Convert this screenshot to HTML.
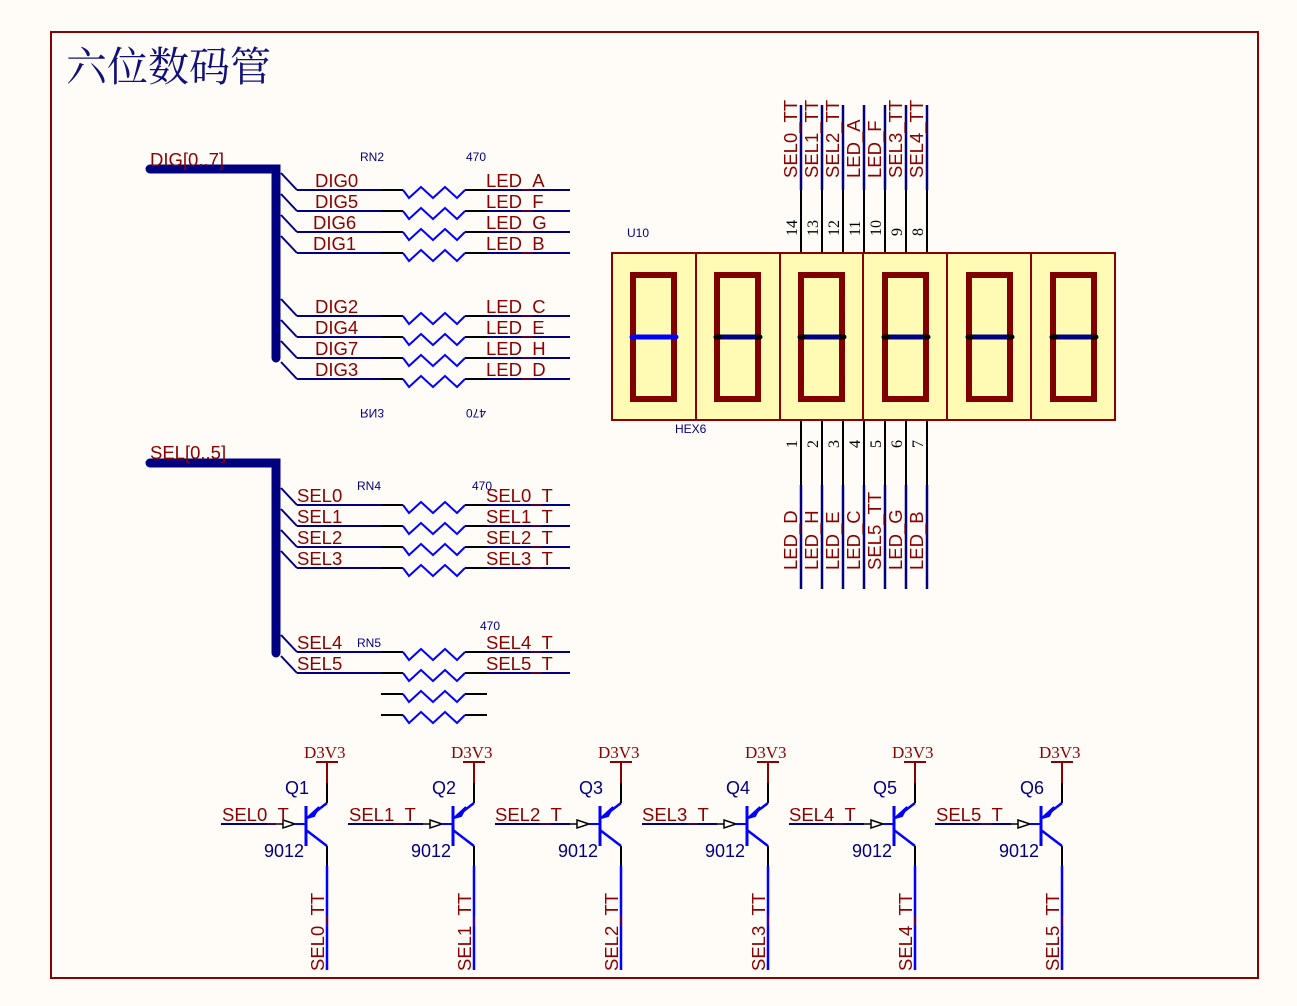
<!DOCTYPE html>
<html><head><meta charset="utf-8"><style>
html,body{margin:0;padding:0;background:#fffcf7;}
svg{display:block;}
.r{fill:#8b0000;font-family:"Liberation Sans",sans-serif;font-size:18.5px;}
.b{fill:#000080;font-family:"Liberation Sans",sans-serif;font-size:12px;}
.q{fill:#000080;font-family:"Liberation Sans",sans-serif;font-size:18px;}
.s{fill:#8b0000;font-family:"Liberation Serif",serif;font-size:17px;}
.n{fill:#000;font-family:"Liberation Serif",serif;font-size:16px;}
</style></head><body>
<svg width="1297" height="1006" viewBox="0 0 1297 1006" xmlns="http://www.w3.org/2000/svg">
<defs>
<g id="res"><path d="M297 0H381" stroke="#000080" stroke-width="2" fill="none"/><path d="M381 0H403M465 0H487" stroke="#000" stroke-width="2"/><path d="M403 0L409 8L421 -3L433 8L445 -3L457 8L465 0" stroke="#0000ff" stroke-width="2" fill="none"/><path d="M487 0H570" stroke="#000080" stroke-width="2"/><path d="M281 -17L297 0" stroke="#000080" stroke-width="2"/></g>
<g id="cell"><rect x="21" y="22" width="41" height="124" fill="none" stroke="#800000" stroke-width="6"/></g>
<g id="qb">
<path d="M-30 0H-23" stroke="#000" stroke-width="1.5"/>
<polygon points="-23,-4 -11,0 -23,4" fill="#fff" stroke="#000" stroke-width="1.5"/>
<path d="M-11 0H0" stroke="#0000ff" stroke-width="2"/>
<path d="M0 -18V22" stroke="#0000ff" stroke-width="3"/>
<path d="M0 6L21 22" stroke="#0000ff" stroke-width="2.5"/>
<path d="M21 -21L8 -11" stroke="#0000ff" stroke-width="2.5"/>
<polygon points="1,-6 13,-17 8,-8" fill="#0000ff" stroke="#0000ff" stroke-width="2"/>
<path d="M21 -21V-41" stroke="#000" stroke-width="2"/>
<path d="M21 -41V-62M10 -62H32" stroke="#8b0000" stroke-width="2"/>
<path d="M21 22V42" stroke="#000" stroke-width="2"/>
<path d="M21 42V146" stroke="#0000ff" stroke-width="2.5"/>
</g>
</defs>
<rect x="51" y="32" width="1207" height="946" fill="none" stroke="#8b0000" stroke-width="2"/>
<text x="66" y="81" style="font-family:'Liberation Serif','Noto Serif CJK SC',serif;font-size:41px;fill:#10107a">六位数码管</text>

<path d="M150 169H276V358" stroke="#000080" stroke-width="9" fill="none" stroke-linecap="round"/>
<text class="r" x="150" y="166">DIG[0..7]</text>
<text class="b" x="360" y="161">RN2</text><text class="b" x="466" y="161">470</text>
<use href="#res" y="190"/><use href="#res" y="211"/><use href="#res" y="232"/><use href="#res" y="253"/>
<use href="#res" y="316"/><use href="#res" y="337"/><use href="#res" y="358"/><use href="#res" y="379"/>
<text class="r" x="315" y="187">DIG0</text><text class="r" x="315" y="208">DIG5</text><text class="r" x="313" y="229">DIG6</text><text class="r" x="313" y="250">DIG1</text>
<text class="r" x="315" y="313">DIG2</text><text class="r" x="315" y="334">DIG4</text><text class="r" x="315" y="355">DIG7</text><text class="r" x="315" y="376">DIG3</text>
<text class="r" x="486" y="187">LED_A</text><text class="r" x="486" y="208">LED_F</text><text class="r" x="486" y="229">LED_G</text><text class="r" x="486" y="250">LED_B</text>
<text class="r" x="486" y="313">LED_C</text><text class="r" x="486" y="334">LED_E</text><text class="r" x="486" y="355">LED_H</text><text class="r" x="486" y="376">LED_D</text>
<text class="b" transform="translate(360,409) scale(1,-1)">RN3</text>
<text class="b" transform="translate(486,409) scale(-1,-1)">470</text>

<path d="M150 463H276V653" stroke="#000080" stroke-width="9" fill="none" stroke-linecap="round"/>
<text class="r" x="150" y="459">SEL[0..5]</text>
<use href="#res" y="505"/><use href="#res" y="526"/><use href="#res" y="547"/><use href="#res" y="568"/>
<use href="#res" y="652"/><use href="#res" y="673"/>
<path d="M381 694H403M465 694H487M381 715H403M465 715H487" stroke="#000" stroke-width="2"/>
<path d="M403 694L409 702L421 691L433 702L445 691L457 702L465 694M403 715L409 723L421 712L433 723L445 712L457 723L465 715" stroke="#0000ff" stroke-width="2" fill="none"/>
<text class="b" x="357" y="490">RN4</text><text class="b" x="472" y="490">470</text>
<text class="b" x="357" y="647">RN5</text><text class="b" x="480" y="630">470</text>
<text class="r" x="297" y="502">SEL0</text><text class="r" x="297" y="523">SEL1</text><text class="r" x="297" y="544">SEL2</text><text class="r" x="297" y="565">SEL3</text>
<text class="r" x="297" y="649">SEL4</text><text class="r" x="297" y="670">SEL5</text>
<text class="r" x="486" y="502">SEL0_T</text><text class="r" x="486" y="523">SEL1_T</text><text class="r" x="486" y="544">SEL2_T</text><text class="r" x="486" y="565">SEL3_T</text>
<text class="r" x="486" y="649">SEL4_T</text><text class="r" x="486" y="670">SEL5_T</text>

<g stroke-width="2" stroke="#000">
<path d="M801 190V253M822 190V253M843 190V253M864 190V253M885 190V253M906 190V253M927 190V253"/>
<path d="M801 420V485M822 420V485M843 420V485M864 420V485M885 420V485M906 420V485M927 420V485"/>
</g>
<g stroke-width="2.5" stroke="#000080">
<path d="M801 105V190M822 105V190M843 105V190M864 105V190M885 105V190M906 105V190M927 105V190"/>
<path d="M801 485V589M822 485V589M843 485V589M864 485V589M885 485V589M906 485V589M927 485V589"/>
</g>
<rect x="612" y="253" width="503" height="167" fill="#fffbb4" stroke="#8b0000" stroke-width="2"/>
<path d="M696 253V420M780 253V420M863 253V420M947 253V420M1031 253V420" stroke="#8b0000" stroke-width="2"/>
<use href="#cell" x="612" y="253"/><use href="#cell" x="696" y="253"/><use href="#cell" x="780" y="253"/>
<use href="#cell" x="864" y="253"/><use href="#cell" x="948" y="253"/><use href="#cell" x="1032" y="253"/>
<path d="M632 337H676" stroke="#0000ff" stroke-width="5" stroke-linecap="round"/>
<g stroke="#000" stroke-width="5" stroke-linecap="round"><path d="M716 337H760M800 337H844M884 337H928M968 337H1012M1052 337H1096"/></g>
<g stroke="#000080" stroke-width="5"><path d="M721 337H755M805 337H839M889 337H923M973 337H1007M1057 337H1091"/></g>
<text class="b" x="627" y="237">U10</text><text class="b" x="675" y="433">HEX6</text>
<g class="n">
<text transform="translate(797,236) rotate(-90)">14</text><text transform="translate(818,236) rotate(-90)">13</text><text transform="translate(839,236) rotate(-90)">12</text><text transform="translate(860,236) rotate(-90)">11</text><text transform="translate(881,236) rotate(-90)">10</text><text transform="translate(902,236) rotate(-90)">9</text><text transform="translate(923,236) rotate(-90)">8</text>
<text transform="translate(797,448) rotate(-90)">1</text><text transform="translate(818,448) rotate(-90)">2</text><text transform="translate(839,448) rotate(-90)">3</text><text transform="translate(860,448) rotate(-90)">4</text><text transform="translate(881,448) rotate(-90)">5</text><text transform="translate(902,448) rotate(-90)">6</text><text transform="translate(923,448) rotate(-90)">7</text>
</g>
<g class="r">
<text transform="translate(797,178) rotate(-90)">SEL0_TT</text><text transform="translate(818,178) rotate(-90)">SEL1_TT</text><text transform="translate(839,178) rotate(-90)">SEL2_TT</text><text transform="translate(860,178) rotate(-90)">LED_A</text><text transform="translate(881,178) rotate(-90)">LED_F</text><text transform="translate(902,178) rotate(-90)">SEL3_TT</text><text transform="translate(923,178) rotate(-90)">SEL4_TT</text>
<text transform="translate(797,570) rotate(-90)">LED_D</text><text transform="translate(818,570) rotate(-90)">LED_H</text><text transform="translate(839,570) rotate(-90)">LED_E</text><text transform="translate(860,570) rotate(-90)">LED_C</text><text transform="translate(881,570) rotate(-90)">SEL5_TT</text><text transform="translate(902,570) rotate(-90)">LED_G</text><text transform="translate(923,570) rotate(-90)">LED_B</text>
</g>

<path d="M221 824H276M348 824H423M495 824H570M642 824H717M789 824H864M935 824H1011" stroke="#000080" stroke-width="2"/>
<use href="#qb" x="306" y="824"/><use href="#qb" x="453" y="824"/><use href="#qb" x="600" y="824"/>
<use href="#qb" x="747" y="824"/><use href="#qb" x="894" y="824"/><use href="#qb" x="1041" y="824"/>
<g class="s"><text x="304" y="758">D3V3</text><text x="451" y="758">D3V3</text><text x="598" y="758">D3V3</text><text x="745" y="758">D3V3</text><text x="892" y="758">D3V3</text><text x="1039" y="758">D3V3</text></g>
<g class="q"><text x="285" y="794">Q1</text><text x="432" y="794">Q2</text><text x="579" y="794">Q3</text><text x="726" y="794">Q4</text><text x="873" y="794">Q5</text><text x="1020" y="794">Q6</text>
<text x="264" y="857">9012</text><text x="411" y="857">9012</text><text x="558" y="857">9012</text><text x="705" y="857">9012</text><text x="852" y="857">9012</text><text x="999" y="857">9012</text></g>
<g class="r"><text x="222" y="821">SEL0_T</text><text x="349" y="821">SEL1_T</text><text x="495" y="821">SEL2_T</text><text x="642" y="821">SEL3_T</text><text x="789" y="821">SEL4_T</text><text x="936" y="821">SEL5_T</text>
<text transform="translate(324,971) rotate(-90)">SEL0_TT</text><text transform="translate(471,971) rotate(-90)">SEL1_TT</text><text transform="translate(618,971) rotate(-90)">SEL2_TT</text><text transform="translate(765,971) rotate(-90)">SEL3_TT</text><text transform="translate(912,971) rotate(-90)">SEL4_TT</text><text transform="translate(1059,971) rotate(-90)">SEL5_TT</text></g>
</svg>
</body></html>
